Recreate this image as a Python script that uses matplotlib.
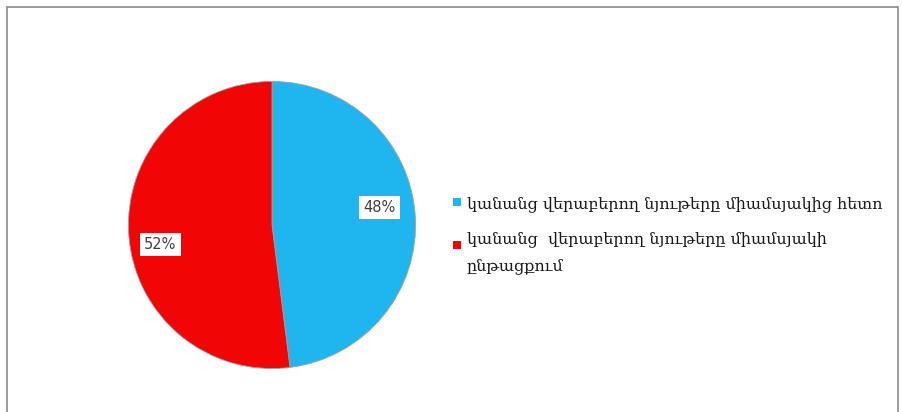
import matplotlib.pyplot as plt
from matplotlib.patches import Rectangle

# shares of the two answer groups
labels = [
    "կանանց վերաբերող նյութերը միամսյակից հետո",
    "կանանց  վերաբերող նյութերը միամսյակի\nընթացքում",
]
values = [48, 52]
colors = ["#1FB6F0", "#F20505"]

fig = plt.figure(figsize=(9.02, 4.12), dpi=100)
fig.patch.set_facecolor("white")

# thin grey frame round the chart area
fig.add_artist(Rectangle((7 / 902, -0.01), 891 / 902, 1 - 7 / 412 + 0.01,
                         transform=fig.transFigure, fill=False,
                         edgecolor="#8a8a8a", linewidth=1.2))

ax = fig.add_axes([127 / 902, 42 / 412, 290 / 902, 290 / 412])
wedges, texts, autotexts = ax.pie(
    values, colors=colors, startangle=90, counterclock=False,
    autopct="%d%%", pctdistance=0.75,
    wedgeprops=dict(edgecolor="#a0a0a0", linewidth=0.6),
    textprops=dict(fontsize=10.5, color="#404040", family="DejaVu Sans"),
)
# nudge the percent labels a little off the mid-angle line
nudges = [(0.0, 0.075), (-0.03, -0.09)]
for t, (dx, dy) in zip(autotexts, nudges):
    x, y = t.get_position()
    t.set_position((x + dx, y + dy))
    t.set_bbox(dict(facecolor="white", edgecolor="none", pad=3))
ax.set_xlim(-1.01, 1.01)
ax.set_ylim(-1.01, 1.01)
ax.set_aspect("equal")

# legend drawn by hand so the marker sits on the first line of each label
y_pos = [202, 245]
for lab, col, y in zip(labels, colors, y_pos):
    fig.add_artist(Rectangle((453 / 902, 1 - (y + 4) / 412), 8 / 902, 8 / 412,
                             transform=fig.transFigure, facecolor=col,
                             edgecolor="none"))
    fig.text(467 / 902, 1 - y / 412, lab, fontsize=11.5, color="#1a1a1a",
             va="center_baseline", ha="left", linespacing=1.75,
             family=["DejaVu Serif", "DejaVu Sans"])

fig.savefig("out.png", dpi=100)
